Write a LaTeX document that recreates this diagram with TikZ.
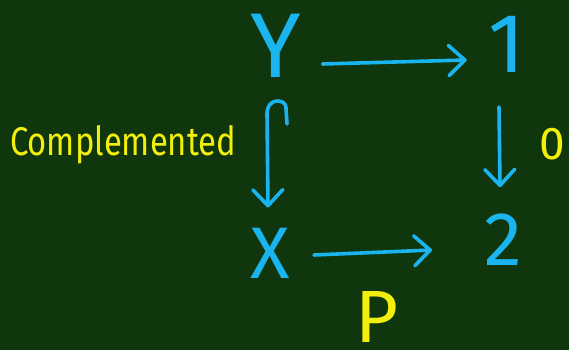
\documentclass[tikz,border=0pt]{standalone}
\usepackage{fontspec}
\setmainfont{Fira Sans}
\usetikzlibrary{arrows.meta,calc}
\definecolor{board}{RGB}{16,54,14}
\definecolor{chalkcyan}{RGB}{26,181,238}
\definecolor{chalkyellow}{RGB}{243,239,12}
\tikzset{
  sym/.style={text=chalkcyan, inner sep=0pt, anchor=base},
  note/.style={text=chalkyellow, inner sep=0pt, anchor=base},
  arr/.style={draw=chalkcyan, line width=3.6pt, line cap=round, line join=round,
    -{Straight Barb[length=16pt,width=30pt,line width=3.6pt,round]}},
}
\begin{document}
\begin{tikzpicture}[x=1pt,y=-1pt]
\useasboundingbox[fill=board] (0,0) rectangle (569,350);
\node[sym, font=\fontsize{92}{92}\selectfont] (Y) at (276,78) {Y};
\node[sym, font=\fontsize{84}{84}\selectfont] (one) at (507,73) {1};
\node[sym, font=\fontsize{73}{73}\selectfont] (X) at (270,278) {X};
\node[sym, font=\fontsize{76}{76}\selectfont] (two) at (503,265) {2};
\node[note, font=\fontsize{74}{74}\selectfont] (P) at (377,342) {P};
\node[note, font=\fontsize{46}{46}\selectfont] (zero) at (552,159) {0};
\node[note, font=\fontsize{40}{40}\selectfont] (comp) at (123,155) {\scalebox{0.82}[1]{Complemented}};
% Y -> 1
\draw[arr] ([xshift=21pt,yshift=14pt]Y.base east) -- ([xshift=-22pt,yshift=13pt]one.base west);
% 1 -> 2
\draw[arr] ([xshift=-8pt,yshift=-34pt]one.base) -- ([xshift=-3pt,yshift=26pt]two.north);
% X -> 2
\draw[arr] ([xshift=24pt,yshift=23pt]X.base east) -- ([xshift=-52pt,yshift=15pt]two.base west);
% Y hook -> X
\draw[arr] ([xshift=11pt,yshift=-46pt]Y.base) -- ++(-1,-16)
  .. controls +(0,-5) and +(5,0) .. ++(-9,-7)
  .. controls +(-6,0) and +(0,-6) .. ++(-10,12)
  -- ([xshift=-2pt,yshift=20pt]X.north);
\end{tikzpicture}
\end{document}
